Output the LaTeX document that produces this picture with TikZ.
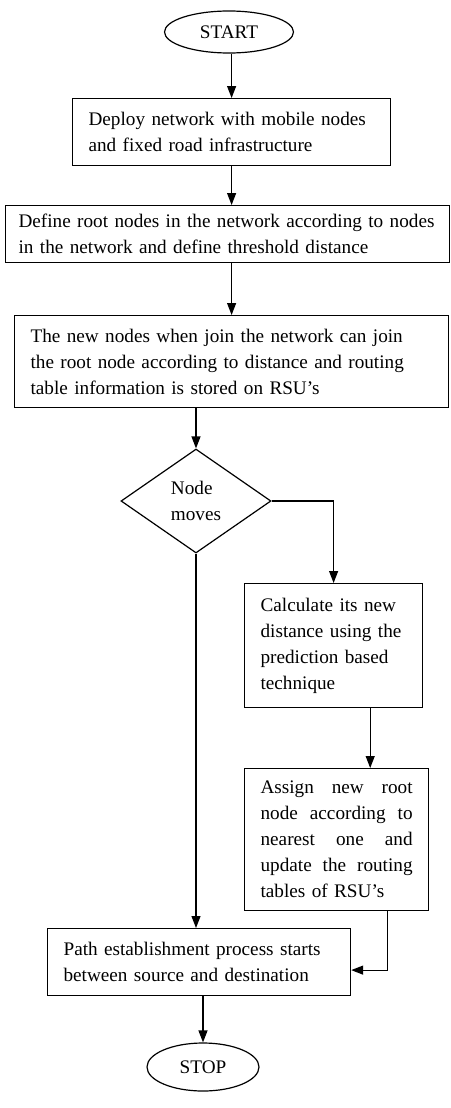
\documentclass[tikz,border=0pt]{standalone}
\usepackage{fontspec}
\setmainfont{Liberation Serif}
\usetikzlibrary{shapes.geometric,arrows.meta}
\newcommand{\spreadline}[1]{\makebox[152pt][s]{\spaceskip=0pt\relax\xspaceskip=0pt\relax #1}}
\begin{document}
\begin{tikzpicture}[x=1pt,y=-1pt,line width=1.2pt,
  font=\fontsize{19.2}{26}\selectfont,
  >={Triangle[length=12pt,width=9pt]},
  procbox/.style={draw,rectangle,anchor=north west,inner xsep=16pt,inner ysep=0pt,align=left},
  termnode/.style={draw,ellipse,inner sep=0pt},
  decnode/.style={draw,diamond,inner sep=0pt,align=left}]
\useasboundingbox (0,0) rectangle (450,1108);
\node[termnode,minimum width=129pt,minimum height=42pt] (start) at (229,32) {START};
\node[procbox,text width=286pt,minimum height=67pt] (box1) at (72,98)
  {Deploy network with mobile nodes\\and fixed road infrastructure};
\node[procbox,text width=418pt,minimum height=57pt,inner xsep=13pt] (box2) at (5,205)
  {Define root nodes in the network according to nodes\\in the network and define threshold distance};
\node[procbox,text width=402pt,minimum height=92pt] (box3) at (14,315)
  {The new nodes when join the network can join\\the root node according to distance and routing\\table information is stored on RSU’s};
\node[decnode,minimum width=150pt,minimum height=104pt] (dec) at (196,501) {Node\\moves};
\node[procbox,text width=146pt,minimum height=124pt] (box4) at (244,583)
  {Calculate its new\\distance using the\\prediction based\\technique};
\node[procbox,text width=152pt,minimum height=142pt] (box5) at (244,768)
  {\spreadline{Assign new root}\\\spreadline{node according to}\\\spreadline{nearest one and}\\\spreadline{update the routing}\\tables of RSU’s};
\node[procbox,text width=271pt,minimum height=67pt] (box6) at (47,928)
  {Path establishment process starts\\between source and destination};
\node[termnode,minimum width=112pt,minimum height=48pt] (stop) at (203,1067) {STOP};
\draw[->] (box1.north |- start.south) -- (box1.north);
\draw[->] (box1.south) -- (box1.south |- box2.north);
\draw[->] (box3.north |- box2.south) -- (box3.north);
\draw[->] (dec.north |- box3.south) -- (dec.north);
\draw[->] (dec.east) -| (box4.north);
\draw[->] ([xshift=-53pt]box4.south east) -- ([xshift=-53pt]box4.south east |- box5.north);
\draw[->] ([xshift=-42pt]box5.south east) |- ([yshift=-8pt]box6.east);
\draw[->] (dec.south) -- (dec.south |- box6.north);
\draw[->] (stop.north |- box6.south) -- (stop.north);
\end{tikzpicture}
\end{document}
